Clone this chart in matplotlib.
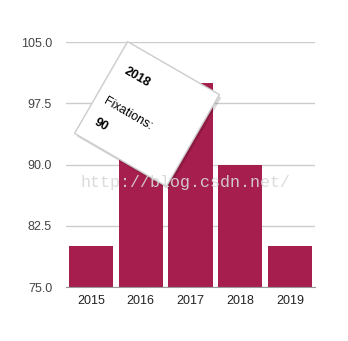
import numpy as np
import matplotlib
matplotlib.use('Agg')
import matplotlib.pyplot as plt
from matplotlib.patches import Polygon

years = ['2015', '2016', '2017', '2018', '2019']
fixations = [80, 95, 100, 90, 80]
yticks = [75.0, 82.5, 90.0, 97.5, 105.0]

BAR = '#A61E4D'
plt.rcParams['font.family'] = ['Liberation Sans', 'DejaVu Sans']

W, H = 348, 341
fig = plt.figure(figsize=(W / 100, H / 100), dpi=100)
ax = fig.add_axes([66 / W, 1 - 287 / H, 249 / W, 245 / H])

x = np.arange(len(years))
ax.bar(x, fixations, width=0.89, color=BAR, zorder=2)
ax.set_xlim(-0.5, len(years) - 0.5)
ax.set_ylim(75, 105)
ax.set_yticks(yticks)
ax.set_yticklabels([f'{v:.1f}' for v in yticks], color='#444', fontsize=9)
ax.set_xticks(x)
ax.set_xticklabels(years, color='#222', fontsize=9)
ax.tick_params(length=0, pad=10)
ax.tick_params(axis='x', pad=6)
ax.grid(axis='y', color='#cccccc', linewidth=1, zorder=0)
for s in ['top', 'right', 'left']:
    ax.spines[s].set_visible(False)
ax.spines['bottom'].set_color('#999999')
ax.spines['bottom'].set_zorder(3)

# watermark
fig.text(185 / W, 1 - 183 / H, 'http://blog.csdn.net/', ha='center', va='center',
         fontsize=12, family='Liberation Mono', color='#d8d8d8', alpha=0.9, zorder=10)

# rotated tooltip
def to_fig(px, py):
    return (px / W, 1 - py / H)

cx, cy, side, ang = 147, 114, 106, np.deg2rad(30)
corners = []
for dx, dy in [(-1, -1), (1, -1), (1, 1), (-1, 1)]:
    ux, uy = dx * side / 2, dy * side / 2
    rx = ux * np.cos(ang) - uy * np.sin(ang)
    ry = ux * np.sin(ang) + uy * np.cos(ang)
    corners.append((cx + rx, cy + ry))

shadow = Polygon([to_fig(px + 2, py + 3) for px, py in corners], closed=True,
                 transform=fig.transFigure, facecolor='#000000', alpha=0.15,
                 edgecolor='none', zorder=6)
box = Polygon([to_fig(px, py) for px, py in corners], closed=True,
              transform=fig.transFigure, facecolor='white', edgecolor='#cccccc',
              linewidth=1, zorder=7)
fig.add_artist(shadow)
fig.add_artist(box)

fig.text(*to_fig(137, 77), '2018', rotation=-30, rotation_mode='anchor',
         ha='center', va='center', fontsize=9, fontweight='bold', color='black', zorder=8)
fig.text(*to_fig(128, 114), 'Fixations:', rotation=-30, rotation_mode='anchor',
         ha='center', va='center', fontsize=9, color='black', zorder=8)
fig.text(*to_fig(101, 125), '90', rotation=-30, rotation_mode='anchor',
         ha='center', va='center', fontsize=9, fontweight='bold', color='black', zorder=8)

fig.savefig('out.png', dpi=100)
